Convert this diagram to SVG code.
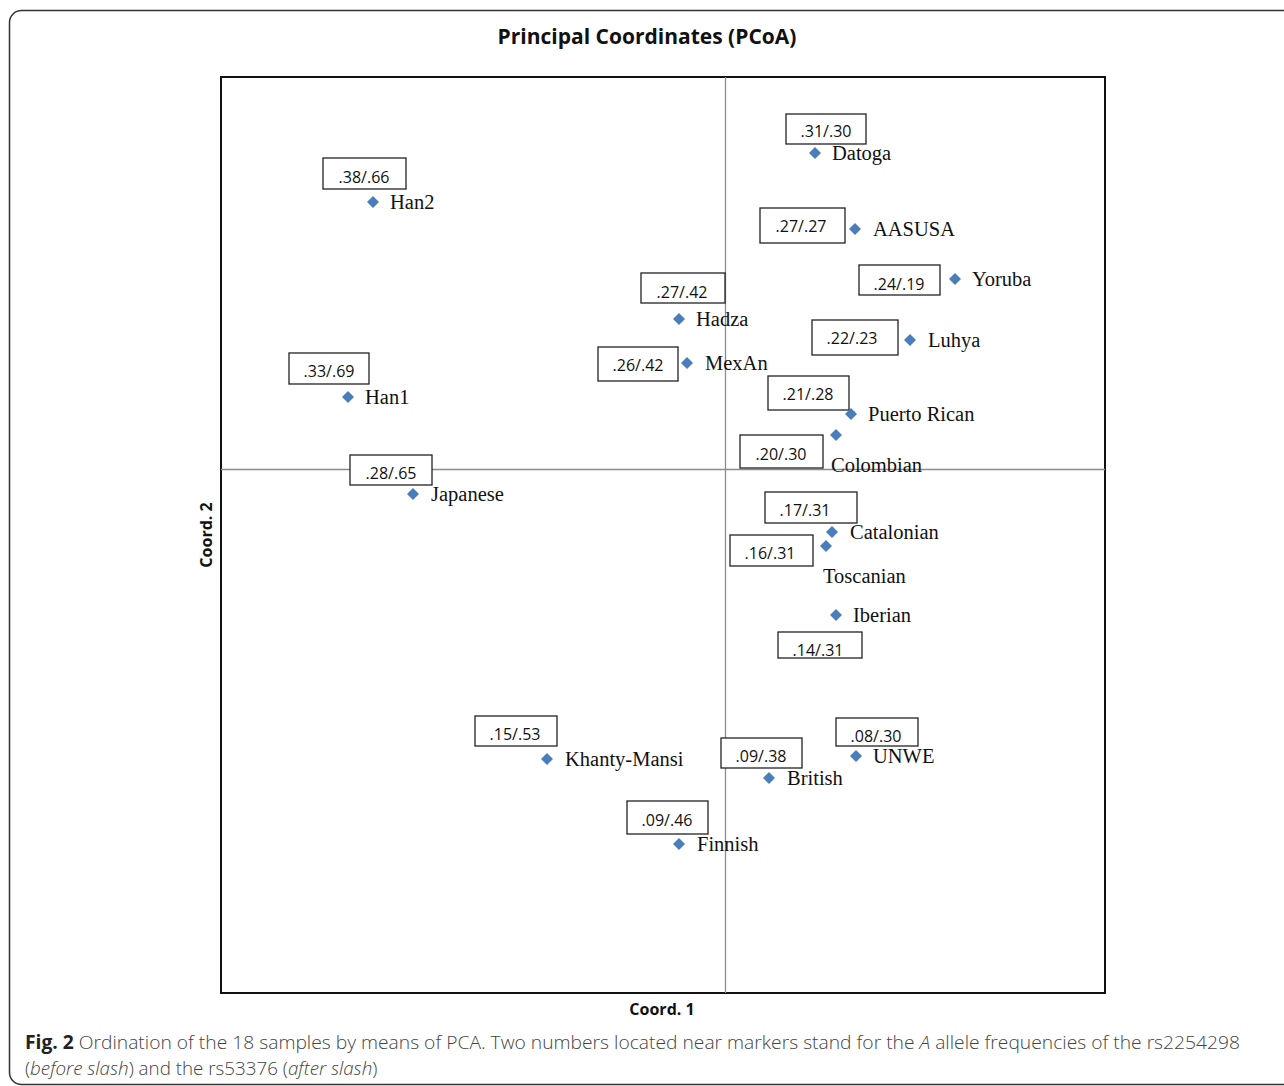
<svg xmlns="http://www.w3.org/2000/svg" width="1284" height="1086" viewBox="0 0 1284 1086">
<defs>
<style>
.box{fill:#fff;stroke:#222;stroke-width:1.3}
.bt{font-family:"Open Sans","Liberation Sans",sans-serif;font-size:16px;fill:#111;text-anchor:middle}
.nm{font-family:"Liberation Serif",serif;font-size:20.5px;fill:#111}
.ax{stroke:#8c8c8c;stroke-width:1.3}
.cap{font-family:"Open Sans","Liberation Sans",sans-serif;font-size:18.8px;fill:#444;font-weight:300}
</style>
<path id="dm" d="M0,-6 L6,0 L0,6 L-6,0 Z" fill="#4a7ebb"/>
</defs>
<rect x="9.5" y="10.5" width="1300" height="1074" rx="12" fill="#fff" stroke="#333" stroke-width="1.5"/>
<text x="647" y="44" text-anchor="middle" font-family="Open Sans, Liberation Sans, sans-serif" font-weight="bold" font-size="21" fill="#111">Principal Coordinates (PCoA)</text>
<rect x="221" y="77" width="884" height="916" fill="#fff" stroke="#111" stroke-width="2"/>
<g id="connectors">
<line class="ax" x1="725.5" y1="77" x2="725.5" y2="993"/>
<line class="ax" x1="221" y1="469.5" x2="1105" y2="469.5"/>
</g>
<g id="Datoga"><rect class="box" x="786" y="114" width="80" height="30"/><text class="bt" x="826" y="136.5">.31/.30</text><use href="#dm" x="815" y="153"/><text class="nm" x="832" y="160">Datoga</text></g>
<g id="Han2"><rect class="box" x="323" y="158" width="83" height="31"/><text class="bt" x="364" y="182.5">.38/.66</text><use href="#dm" x="373" y="202"/><text class="nm" x="390" y="209">Han2</text></g>
<g id="AASUSA"><rect class="box" x="760" y="208" width="85" height="35"/><text class="bt" x="801" y="231.5">.27/.27</text><use href="#dm" x="855" y="229"/><text class="nm" x="873" y="236">AASUSA</text></g>
<g id="Yoruba"><rect class="box" x="859" y="265" width="81" height="30"/><text class="bt" x="899" y="289.5">.24/.19</text><use href="#dm" x="955" y="279"/><text class="nm" x="972" y="286">Yoruba</text></g>
<g id="Hadza"><rect class="box" x="641" y="273" width="84" height="30"/><text class="bt" x="682" y="297.5">.27/.42</text><use href="#dm" x="679" y="319"/><text class="nm" x="696" y="326">Hadza</text></g>
<g id="Luhya"><rect class="box" x="812" y="320" width="86" height="35"/><text class="bt" x="852" y="343.5">.22/.23</text><use href="#dm" x="910" y="340"/><text class="nm" x="928" y="347">Luhya</text></g>
<g id="MexAn"><rect class="box" x="598" y="347" width="80" height="34"/><text class="bt" x="638" y="370.5">.26/.42</text><use href="#dm" x="687" y="363"/><text class="nm" x="705" y="370">MexAn</text></g>
<g id="Han1"><rect class="box" x="289" y="353" width="80" height="31"/><text class="bt" x="329" y="376.5">.33/.69</text><use href="#dm" x="348" y="397"/><text class="nm" x="365" y="404">Han1</text></g>
<g id="PuertoRican"><rect class="box" x="768" y="376" width="81" height="34"/><text class="bt" x="808" y="399.5">.21/.28</text><use href="#dm" x="851" y="414"/><text class="nm" x="868" y="421">Puerto Rican</text></g>
<g id="Colombian"><rect class="box" x="740" y="435" width="83" height="33"/><text class="bt" x="781" y="459.5">.20/.30</text><use href="#dm" x="836" y="435"/><text class="nm" x="831" y="472">Colombian</text></g>
<g id="Japanese"><rect class="box" x="350" y="455" width="82" height="30"/><text class="bt" x="391" y="478.5">.28/.65</text><use href="#dm" x="413" y="494"/><text class="nm" x="431" y="501">Japanese</text></g>
<g id="Catalonian"><rect class="box" x="765" y="492" width="92" height="31"/><text class="bt" x="805" y="515.5">.17/.31</text><use href="#dm" x="832" y="532"/><text class="nm" x="850" y="539">Catalonian</text></g>
<g id="Toscanian"><rect class="box" x="730" y="535" width="83" height="31"/><text class="bt" x="770" y="558.5">.16/.31</text><use href="#dm" x="826" y="546"/><text class="nm" x="823" y="583">Toscanian</text></g>
<g id="Iberian"><rect class="box" x="778" y="632" width="84" height="26"/><text class="bt" x="818" y="656">.14/.31</text><use href="#dm" x="836" y="615"/><text class="nm" x="853" y="622">Iberian</text></g>
<g id="KhantyMansi"><rect class="box" x="475" y="716" width="82" height="30"/><text class="bt" x="515" y="739.5">.15/.53</text><use href="#dm" x="547" y="759"/><text class="nm" x="565" y="766">Khanty-Mansi</text></g>
<g id="UNWE"><rect class="box" x="836" y="718" width="82" height="28"/><text class="bt" x="876" y="742">.08/.30</text><use href="#dm" x="856" y="756"/><text class="nm" x="873" y="763">UNWE</text></g>
<g id="British"><rect class="box" x="721" y="738" width="81" height="30"/><text class="bt" x="761" y="761.5">.09/.38</text><use href="#dm" x="769" y="778"/><text class="nm" x="787" y="785">British</text></g>
<g id="Finnish"><rect class="box" x="627" y="801" width="81" height="33"/><text class="bt" x="667" y="825.5">.09/.46</text><use href="#dm" x="679" y="844"/><text class="nm" x="697" y="851">Finnish</text></g>
<text x="662" y="1015" text-anchor="middle" font-family="Open Sans, Liberation Sans, sans-serif" font-weight="bold" font-size="16" fill="#111">Coord. 1</text>
<text transform="translate(212,535) rotate(-90)" text-anchor="middle" font-family="Open Sans, Liberation Sans, sans-serif" font-weight="bold" font-size="16" fill="#111">Coord. 2</text>
<text class="cap" x="25" y="1049" textLength="1215" lengthAdjust="spacingAndGlyphs"><tspan font-weight="bold" fill="#222">Fig. 2</tspan> Ordination of the 18 samples by means of PCA. Two numbers located near markers stand for the <tspan font-style="italic">A</tspan> allele frequencies of the rs2254298</text>
<text class="cap" x="25" y="1075">(<tspan font-style="italic">before slash</tspan>) and the rs53376 (<tspan font-style="italic">after slash</tspan>)</text>
</svg>
